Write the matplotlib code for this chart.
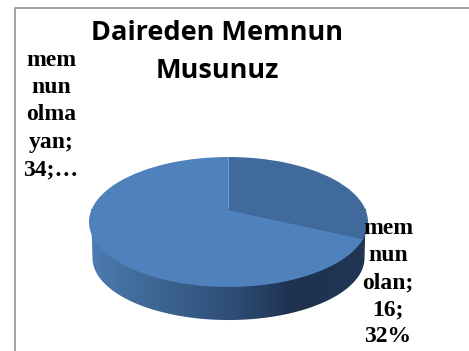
import numpy as np
import matplotlib
matplotlib.use("Agg")
import matplotlib.pyplot as plt
from matplotlib.colors import LinearSegmentedColormap
from matplotlib.patches import Polygon
from matplotlib.transforms import Transform

categories = ["memnun olan", "memnun olmayan"]
values = [16, 34]
title_text = "Daireden Memnun\nMusunuz"
label_olan = "mem\nnun\nolan;\n16;\n32%"
label_olmayan = "mem\nnun\nolma\nyan;\n34;…"

W, H = 469, 351
CX, CY, RX, RY = 228.5, 222.0, 139.5, 65.0   # top ellipse on the canvas, px
K = 0.185                                     # perspective strength


class Perspective(Transform):
    input_dims = output_dims = 2

    def transform_non_affine(self, xy):
        xy = np.asarray(xy, dtype=float)
        w = 1 + K * xy[:, 1]
        return np.column_stack([np.sqrt(1 - K**2) * xy[:, 0] / w,
                                (xy[:, 1] + K) / w])


fig = plt.figure(figsize=(W / 100, H / 100), dpi=100, facecolor="white")
ax = fig.add_axes([0, 0, 1, 1])

# side wall, a horizontal shade clipped to the lower rim
t = np.linspace(np.pi, 2 * np.pi, 200)
rim = np.column_stack([0.975 * np.cos(t), -0.554 + 0.954 * np.sin(t)])
rim = np.vstack([[-0.985, 0.2], rim, [0.985, 0.2]])
clip = Polygon(rim, closed=True, transform=ax.transData, fc="none", ec="none")
ax.add_patch(clip)
shade = LinearSegmentedColormap.from_list(
    "side", [(0, "#4c7cb4"), (0.12, "#44709f"), (0.5, "#2f4f79"),
             (0.73, "#1e3250"), (1, "#203653")])
img = ax.imshow(np.linspace(0, 1, 256)[None, :], cmap=shade, aspect="auto",
                extent=(-1, 1, -1.6, 0.3), zorder=1)
img.set_clip_path(clip)

# top face: a real pie, seen through the perspective transform
wedges, _ = ax.pie(values, startangle=90, counterclock=False, radius=1,
                   colors=["#40699c", "#4f81bd"],
                   wedgeprops=dict(linewidth=0))
persp = Perspective() + ax.transData
for w in wedges:
    w.set_transform(persp)
    w.set_zorder(2)
    w.set_clip_on(False)

ax.set_aspect("auto")
ax.set_xlim(-CX / RX, (W - CX) / RX)
ax.set_ylim(-(H - CY) / RY, CY / RY)
ax.set_axis_off()

# chart frame: top and left edges are visible in the crop
fig.add_artist(plt.Line2D([15 / W, 15 / W, 1], [0, 1 - 7.5 / H, 1 - 7.5 / H],
                          color="#a0a0a0", lw=1.4))


def px(x, y):
    return x / W, 1 - y / H


fig.text(*px(217, 52), title_text, ha="center", va="center", family="Open Sans",
         fontweight="bold", fontsize=19.5, linespacing=1.62, color="black")
serif = dict(ha="center", va="center", family="Liberation Serif",
             fontweight="bold", fontsize=17, linespacing=1.39, color="black",
             zorder=5)
fig.text(*px(51, 115), label_olmayan, **serif)
fig.text(*px(388, 282.5), label_olan, **serif)

fig.savefig("out.png", dpi=100)
